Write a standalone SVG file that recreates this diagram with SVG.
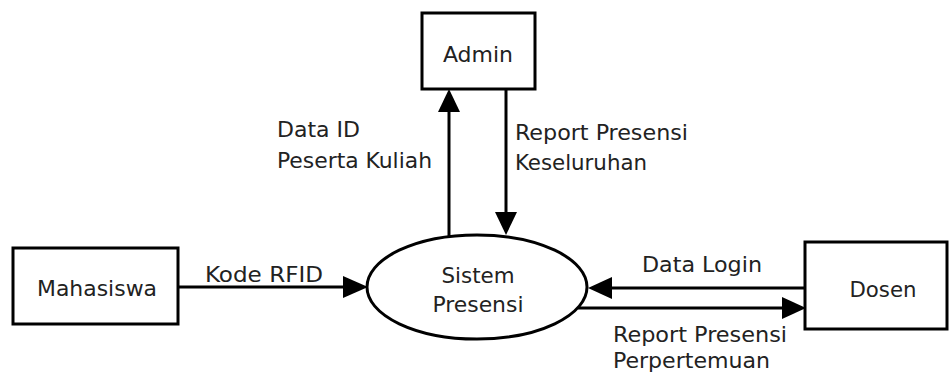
<svg xmlns="http://www.w3.org/2000/svg" width="949" height="379" viewBox="0 0 949 379">
  <style>
    .box { fill: #ffffff; stroke: #000000; stroke-width: 3; }
    .flow { fill: none; stroke: #000000; stroke-width: 3; }
    text { font-family: "DejaVu Sans Condensed", "DejaVu Sans", "Liberation Sans", sans-serif; font-stretch: condensed; font-size: 21px; fill: #222222; }
  </style>
  <rect width="949" height="379" fill="#ffffff"/>

  <g id="connectors">
    <!-- Mahasiswa to Sistem Presensi -->
    <line class="flow" x1="178" y1="287" x2="345" y2="287"/>
    <path d="M343,276 L368,287 L343,298 Z"/>
    <!-- Sistem Presensi up to Admin -->
    <line class="flow" x1="449" y1="236" x2="449" y2="110"/>
    <path d="M438,112 L449,89 L460,112 Z"/>
    <!-- Admin down to Sistem Presensi -->
    <line class="flow" x1="506" y1="89" x2="506" y2="214"/>
    <path d="M495,212 L506,235 L517,212 Z"/>
    <!-- Dosen to Sistem Presensi -->
    <line class="flow" x1="805" y1="288" x2="610" y2="288"/>
    <path d="M612,277 L588,288 L612,299 Z"/>
    <!-- Sistem Presensi to Dosen -->
    <line class="flow" x1="578" y1="308" x2="784" y2="308"/>
    <path d="M782,297 L806,308 L782,319 Z"/>
  </g>

  <g id="admin">
    <rect class="box" x="422" y="13" width="113" height="76"/>
    <text x="478" y="62" text-anchor="middle" textLength="70" lengthAdjust="spacingAndGlyphs">Admin</text>
  </g>

  <g id="mahasiswa">
    <rect class="box" x="13" y="248" width="165" height="76"/>
    <text x="97" y="296" text-anchor="middle" textLength="120" lengthAdjust="spacingAndGlyphs">Mahasiswa</text>
  </g>

  <g id="sistem-presensi">
    <ellipse class="box" cx="477" cy="287" rx="110" ry="52"/>
    <text x="478" y="283" text-anchor="middle" textLength="73" lengthAdjust="spacingAndGlyphs">Sistem</text>
    <text x="478" y="312" text-anchor="middle" textLength="91" lengthAdjust="spacingAndGlyphs">Presensi</text>
  </g>

  <g id="dosen">
    <rect class="box" x="805" y="242" width="142" height="87"/>
    <text x="883" y="297" text-anchor="middle" textLength="67" lengthAdjust="spacingAndGlyphs">Dosen</text>
  </g>

  <g id="labels">
    <text x="205" y="282" textLength="118" lengthAdjust="spacingAndGlyphs">Kode RFID</text>
    <text x="277" y="137" textLength="83" lengthAdjust="spacingAndGlyphs">Data ID</text>
    <text x="277" y="168" textLength="155" lengthAdjust="spacingAndGlyphs">Peserta Kuliah</text>
    <text x="515" y="140" textLength="173" lengthAdjust="spacingAndGlyphs">Report Presensi</text>
    <text x="515" y="170" textLength="132" lengthAdjust="spacingAndGlyphs">Keseluruhan</text>
    <text x="642" y="272" textLength="120" lengthAdjust="spacingAndGlyphs">Data Login</text>
    <text x="613" y="342" textLength="174" lengthAdjust="spacingAndGlyphs">Report Presensi</text>
    <text x="613" y="368" textLength="157" lengthAdjust="spacingAndGlyphs">Perpertemuan</text>
  </g>
</svg>
